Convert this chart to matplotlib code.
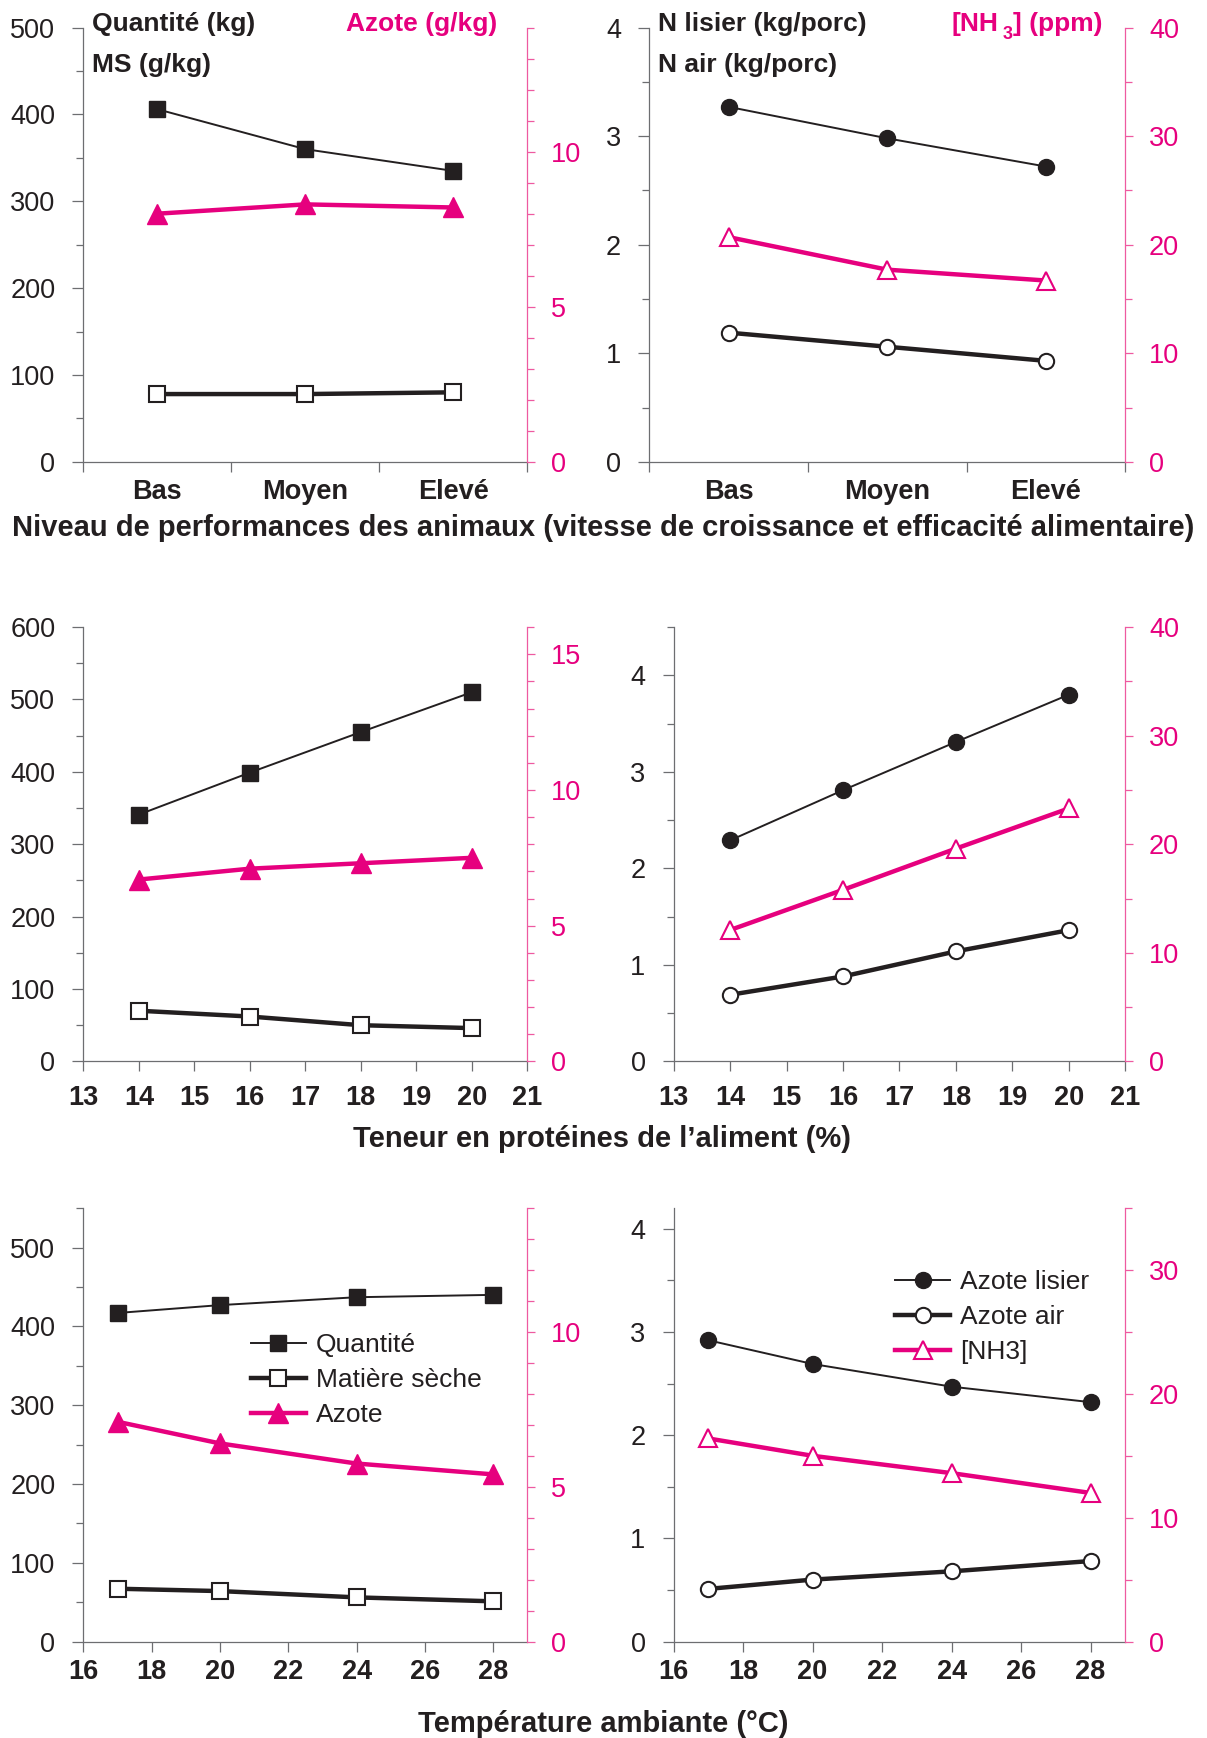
import numpy as np
import matplotlib
matplotlib.use('Agg')
import matplotlib.pyplot as plt
from matplotlib.ticker import MultipleLocator, NullFormatter

plt.rcParams['font.family'] = ['Liberation Sans', 'DejaVu Sans']

INK = '#231f20'
PINK = '#e6007e'
PINK_AXIS = '#ee5aa0'
GREY = '#6d6e71'

# niveau de performances
perf_levels = ['Bas', 'Moyen', 'Elevé']
perf_quantite = [406, 360, 335]
perf_ms = [78, 78, 80]
perf_azote = [8.0, 8.3, 8.2]
perf_n_lisier = [3.27, 2.98, 2.72]
perf_n_air = [1.19, 1.06, 0.93]
perf_nh3 = [20.7, 17.7, 16.7]

# teneur en protéines (%)
prot = [14, 16, 18, 20]
prot_quantite = [341, 399, 455, 510]
prot_ms = [70, 62, 50, 46]
prot_azote = [6.7, 7.1, 7.3, 7.5]
prot_n_lisier = [2.29, 2.81, 3.31, 3.80]
prot_n_air = [0.69, 0.88, 1.14, 1.36]
prot_nh3 = [12.1, 15.8, 19.6, 23.3]

# température ambiante (°C)
temp = [17, 20, 24, 28]
temp_quantite = [417, 427, 437, 440]
temp_ms = [67, 64, 56, 51]
temp_azote = [7.1, 6.4, 5.75, 5.4]
temp_n_lisier = [2.92, 2.69, 2.47, 2.32]
temp_n_air = [0.51, 0.60, 0.68, 0.78]
temp_nh3 = [16.4, 15.0, 13.6, 12.0]

W, H = 1207, 1738
fig = plt.figure(figsize=(W / 100, H / 100), dpi=100)


def ftext(x, y, s, **kw):
    kw.setdefault('fontsize', 19)
    kw.setdefault('fontweight', 'bold')
    kw.setdefault('color', INK)
    kw.setdefault('va', 'baseline')
    return fig.text(x / W, 1 - y / H, s, **kw)


def panel(x0, y0, x1, y1, ymax, ystep, y2max, y2step, y2minor):
    ax = fig.add_axes([x0 / W, 1 - y1 / H, (x1 - x0) / W, (y1 - y0) / H])
    ax2 = ax.twinx()
    ax.set_facecolor('none')
    for s in ('top', 'right'):
        ax.spines[s].set_visible(False)
    for s in ('left', 'bottom'):
        ax.spines[s].set_color(GREY)
        ax.spines[s].set_linewidth(0.9)
    for s in ('top', 'left', 'bottom'):
        ax2.spines[s].set_visible(False)
    ax2.spines['right'].set_color(PINK_AXIS)
    ax2.spines['right'].set_linewidth(0.9)

    ax.set_ylim(0, ymax)
    ax.yaxis.set_major_locator(MultipleLocator(ystep))
    ax.yaxis.set_minor_locator(MultipleLocator(ystep / 2))
    ax.tick_params(axis='y', which='major', length=7.7, width=0.9, color=GREY,
                   labelsize=19.5, labelcolor=INK, pad=12.5)
    ax.tick_params(axis='y', which='minor', length=5, width=0.9, color=GREY)

    ax2.set_ylim(0, y2max)
    ax2.yaxis.set_major_locator(MultipleLocator(y2step))
    ax2.yaxis.set_minor_locator(MultipleLocator(y2minor))
    ax2.tick_params(axis='y', which='major', length=6, width=0.9, color=PINK_AXIS,
                    labelsize=19.5, labelcolor=PINK, pad=11)
    ax2.tick_params(axis='y', which='minor', length=4.7, width=0.9, color=PINK_AXIS)
    return ax, ax2


def numeric_x(ax, lo, hi, ticks, pad):
    ax.set_xlim(lo, hi)
    ax.set_xticks(ticks, labels=[str(t) for t in ticks], fontweight='bold', fontsize=19.5)
    ax.tick_params(axis='x', which='major', length=7.2, width=0.9, color=GREY,
                   labelcolor=INK, pad=pad)


def category_x(ax, levels):
    xc = np.arange(len(levels)) + 0.5
    ax.set_xlim(0, len(levels))
    ax.set_xticks(np.arange(len(levels) + 1))
    ax.xaxis.set_major_formatter(NullFormatter())
    ax.set_xticks(xc, labels=levels, minor=True, fontweight='bold', fontsize=19.5)
    ax.tick_params(axis='x', which='major', length=7.2, width=0.9, color=GREY)
    ax.tick_params(axis='x', which='minor', length=0, labelcolor=INK, pad=12.5)
    return xc


def series(ax, ax2, x, q, ms, n, tri_fill):
    marker = 's' if tri_fill else 'o'
    l1, = ax.plot(x, q, color=INK, lw=1.4, marker=marker, ms=11.5, mfc=INK, mec=INK,
                  clip_on=False)
    l2, = ax.plot(x, ms, color=INK, lw=3.2, marker=marker, ms=11, mfc='white', mec=INK,
                  mew=1.5, clip_on=False)
    if tri_fill:
        l3, = ax2.plot(x, n, color=PINK, lw=3.2, marker='^', ms=14, mfc=PINK, mec=PINK,
                       clip_on=False)
    else:
        l3, = ax2.plot(x, n, color=PINK, lw=3.2, marker='^', ms=12.5, mfc='white', mec=PINK,
                       mew=1.5, clip_on=False)
    return [l1, l2, l3]


def legend(ax2, lines, labels, x, y):
    ax2.legend(lines, labels, loc='upper left',
               bbox_to_anchor=(x / W, 1 - y / H), bbox_transform=fig.transFigure,
               frameon=False, fontsize=19, labelcolor=INK, handlelength=2.1,
               handletextpad=0.36, labelspacing=0.42, borderpad=0, borderaxespad=0)


# --- performances : quantités de lisier
ax, ax2 = panel(83.4, 27.6, 527.3, 461.8, 500, 100, 14, 5, 1)
xc = category_x(ax, perf_levels)
series(ax, ax2, xc, perf_quantite, perf_ms, perf_azote, True)
ftext(91.8, 31, 'Quantité (kg)')
ftext(91.8, 71.6, 'MS (g/kg)')
ftext(497.5, 31, 'Azote (g/kg)', color=PINK, ha='right')

# --- performances : azote
ax, ax2 = panel(649.2, 27.6, 1125.3, 461.8, 4, 1, 40, 10, 5)
xc = category_x(ax, perf_levels)
series(ax, ax2, xc, perf_n_lisier, perf_n_air, perf_nh3, False)
ftext(658, 31, 'N lisier (kg/porc)')
ftext(658, 71.6, 'N air (kg/porc)')
t1 = ftext(952, 31, '[NH', color=PINK)
t2 = ax2.annotate('3', xy=(1, 0), xycoords=t1, xytext=(3, -5), textcoords='offset points',
                  fontsize=13, fontweight='bold', color=PINK, va='bottom', ha='left',
                  annotation_clip=False)
ax2.annotate('] (ppm)', xy=(1, 0), xycoords=(t2, t1), xytext=(0, 0),
             textcoords='offset points', fontsize=19, fontweight='bold', color=PINK,
             va='bottom', ha='left', annotation_clip=False)

ftext(603, 536, 'Niveau de performances des animaux (vitesse de croissance et '
      'efficacité alimentaire)', fontsize=21, ha='center')

# --- protéines : quantités
ax, ax2 = panel(83.4, 627.1, 527.3, 1061.4, 600, 100, 16, 5, 1)
numeric_x(ax, 13, 21, list(range(13, 22)), 9.8)
series(ax, ax2, prot, prot_quantite, prot_ms, prot_azote, True)

# --- protéines : azote
ax, ax2 = panel(673.6, 627.1, 1125.3, 1061.4, 4.5, 1, 40, 10, 5)
numeric_x(ax, 13, 21, list(range(13, 22)), 9.8)
series(ax, ax2, prot, prot_n_lisier, prot_n_air, prot_nh3, False)

ftext(602, 1147, 'Teneur en protéines de l\u2019aliment (%)', fontsize=21, ha='center')

# --- température : quantités
ax, ax2 = panel(83.4, 1208.2, 527.3, 1641.5, 550, 100, 14, 5, 1)
numeric_x(ax, 16, 29, list(range(16, 29, 2)), 5.5)
lines = series(ax, ax2, temp, temp_quantite, temp_ms, temp_azote, True)
legend(ax2, lines, ['Quantité', 'Matière sèche', 'Azote'], 250.6, 1333)

# --- température : azote
ax, ax2 = panel(673.6, 1208.2, 1125.3, 1641.5, 4.2, 1, 35, 10, 5)
numeric_x(ax, 16, 29, list(range(16, 29, 2)), 5.5)
lines = series(ax, ax2, temp, temp_n_lisier, temp_n_air, temp_nh3, False)
legend(ax2, lines, ['Azote lisier', 'Azote air', '[NH3]'], 895, 1270)

ftext(603, 1732, 'Température ambiante (°C)', fontsize=21, ha='center')

fig.savefig('out.png', dpi=100)
